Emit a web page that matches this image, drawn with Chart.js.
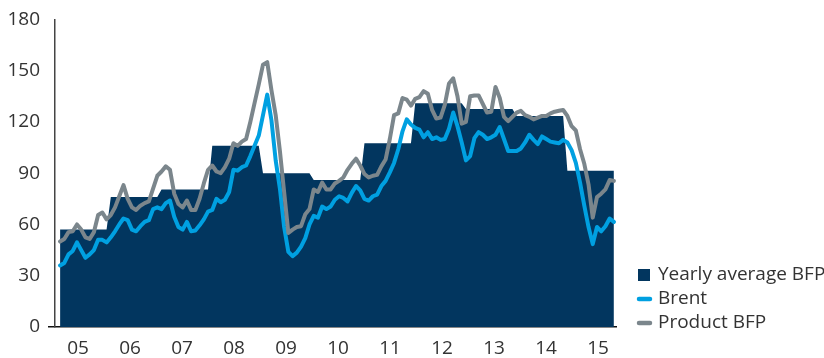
<!DOCTYPE html>
<html lang="en">
<head>
    <meta charset="UTF-8">
    <title>BFP vs Brent</title>
    <script src="https://cdn.jsdelivr.net/npm/chart.js@4/dist/chart.umd.min.js"></script>
    <style>
        html, body { margin: 0; padding: 0; background: #fff; }
    </style>
</head>
<body>
<canvas id="canvas" width="824" height="358"></canvas>
<script>
    // year labels on the x axis
    const yearLabels = ['05', '06', '07', '08', '09', '10', '11', '12', '13', '14', '15'];

    // yearly average basic fuel price, one value per year
    const yearlyBFP = [57, 76, 80.5, 106, 90, 86, 107.5, 131, 127.5, 123.5, 91.5];

    // monthly series, 12 values per year
    const brent = [
        36, 37.5, 42.5, 44.5, 49.5, 45, 40.5, 42.5, 45, 51, 51, 49.5,
        52.5, 56, 60, 63.5, 62.5, 57, 56, 59, 61.5, 62.5, 69, 70,
        69, 72.5, 74, 64.5, 58.5, 57, 61.5, 56, 56.5, 59.5, 63, 67.5,
        68.5, 75, 73, 74.5, 79, 92, 91.5, 93.5, 94.5, 100, 106, 112,
        124, 136, 121, 97.5, 81, 58.5, 44, 41.5, 43.5, 47, 52, 60,
        65, 64, 70.5, 69, 70.5, 74.5, 76.5, 75.5, 73.5, 78.5, 82.5, 80,
        75, 74, 76.5, 77.5, 82.5, 85.5, 90.5, 96, 104, 114.5, 121.5, 118.5,
        116.5, 115.5, 111, 114, 110, 111, 109.5, 110, 116, 125.5, 117.5, 108,
        97.5, 100, 110.5, 114, 112.5, 110, 111, 112.5, 117, 110, 103, 103,
        103, 104.5, 108, 112.5, 109.5, 107, 111.5, 110, 108.5, 108, 107.5, 109.5,
        108, 103.5, 96, 84.5, 71, 58.5, 48.5, 58.5, 56, 59, 63.5, 61.5
    ];

    const productBFP = [
        50, 51.5, 55.5, 56, 60, 57, 52.5, 51.5, 55.5, 65.5, 67, 63,
        65.5, 70, 76.5, 83, 75, 70, 68.5, 71, 72.5, 73.5, 81, 88.5,
        91, 94, 92, 78, 72, 70, 74, 68.5, 68.5, 75, 84, 92,
        94.5, 91, 90, 93.5, 98.5, 107.5, 106, 108.5, 110, 120, 131, 142,
        153.5, 155, 138.5, 124, 103, 79, 55, 57, 58.5, 59, 66, 69,
        80.5, 79, 84.5, 80.5, 80.5, 84, 85.5, 87.5, 92, 95.5, 98.5, 94.5,
        89.5, 87.5, 88.5, 89, 94, 98, 110, 124, 125, 134, 133, 129.5,
        133.5, 134.5, 138, 136.5, 127, 122, 122.5, 130, 142.5, 145.5, 135, 119,
        120, 135, 135.5, 135.5, 130.5, 125.5, 126, 140.5, 134, 123, 120.5, 123,
        125.5, 126.5, 124, 123, 121.5, 122.5, 123.5, 123.5, 125, 126, 126.5, 127,
        123.5, 117.5, 115, 104, 95.5, 83.5, 64, 76, 78, 80.5, 86, 85.5
    ];

    const NAVY = '#02365f';
    const BLUE = '#00a0e1';
    const GREY = '#7b868c';
    const TEXT = '#333333';
    const FONT = '"Open Sans", "Noto Sans", sans-serif';

    const toPoints = arr => arr.map((v, i) => ({x: i, y: v}));
    const yearlyMonthly = brent.map((_, i) => ({x: i, y: yearlyBFP[Math.floor(i / 12)]}));

    // where the year labels sit along the month index
    const labelStart = 4.26;
    const labelStep = 12.3;

    const legendItems = [
        {text: 'Yearly average BFP', color: NAVY, type: 'box'},
        {text: 'Brent', color: BLUE, type: 'line'},
        {text: 'Product BFP', color: GREY, type: 'line'}
    ];

    // legend drawn bottom right, next to the plot
    const sideLegend = {
        id: 'sideLegend',
        afterDraw(chart) {
            const ctx = chart.ctx;
            ctx.save();
            ctx.font = '19px ' + FONT;
            ctx.textBaseline = 'middle';
            ctx.fillStyle = TEXT;
            legendItems.forEach((item, k) => {
                const cy = 275 + k * 24;
                if (item.type === 'box') {
                    ctx.fillStyle = item.color;
                    ctx.fillRect(638, cy - 6, 12, 12);
                } else {
                    ctx.strokeStyle = item.color;
                    ctx.lineWidth = 4.5;
                    ctx.lineCap = 'round';
                    ctx.beginPath();
                    ctx.moveTo(639, cy);
                    ctx.lineTo(650, cy);
                    ctx.stroke();
                }
                ctx.fillStyle = TEXT;
                ctx.fillText(item.text, 658, cy);
            });
            ctx.restore();
        }
    };

    const chart = new Chart('canvas', {
        type: 'line',
        data: {
            datasets: [
                {
                    label: 'Yearly average BFP',
                    data: yearlyMonthly,
                    borderWidth: 0,
                    backgroundColor: NAVY,
                    fill: 'origin',
                    pointRadius: 0,
                    tension: 0,
                    order: 2
                },
                {
                    label: 'Brent',
                    data: toPoints(brent),
                    borderColor: BLUE,
                    borderWidth: 4,
                    borderJoinStyle: 'round',
                    borderCapStyle: 'round',
                    fill: false,
                    pointRadius: 0,
                    tension: 0,
                    order: 1
                },
                {
                    label: 'Product BFP',
                    data: toPoints(productBFP),
                    borderColor: GREY,
                    borderWidth: 4,
                    borderJoinStyle: 'round',
                    borderCapStyle: 'round',
                    fill: false,
                    pointRadius: 0,
                    tension: 0,
                    order: 0
                }
            ]
        },
        options: {
            responsive: false,
            animation: false,
            layout: {padding: {top: 14, right: 208, left: 0, bottom: 0}},
            plugins: {
                legend: {display: false},
                tooltip: {enabled: false}
            },
            scales: {
                x: {
                    type: 'linear',
                    min: -1.2,
                    max: 131.5,
                    afterFit: axis => { axis.height = 31; },
                    afterBuildTicks: axis => {
                        axis.ticks = yearLabels.map((_, k) => ({value: labelStart + k * labelStep}));
                    },
                    grid: {display: false},
                    border: {display: true, color: '#111', width: 1.5},
                    ticks: {
                        padding: 2,
                        color: TEXT,
                        font: {family: FONT, size: 19},
                        maxRotation: 0,
                        autoSkip: false,
                        callback: (v, idx) => yearLabels[idx]
                    }
                },
                y: {
                    min: 0,
                    max: 180,
                    afterFit: axis => { axis.width = 55; },
                    grid: {
                        drawOnChartArea: false,
                        tickLength: 7,
                        color: c => (c.tick && c.tick.value === 0) ? '#111' : 'rgba(0,0,0,0)',
                        lineWidth: 1.5
                    },
                    border: {display: true, color: '#444', width: 1.5},
                    ticks: {
                        stepSize: 30,
                        padding: 8,
                        color: TEXT,
                        font: {family: FONT, size: 19}
                    }
                }
            }
        },
        plugins: [sideLegend]
    });
</script>
</body>
</html>
